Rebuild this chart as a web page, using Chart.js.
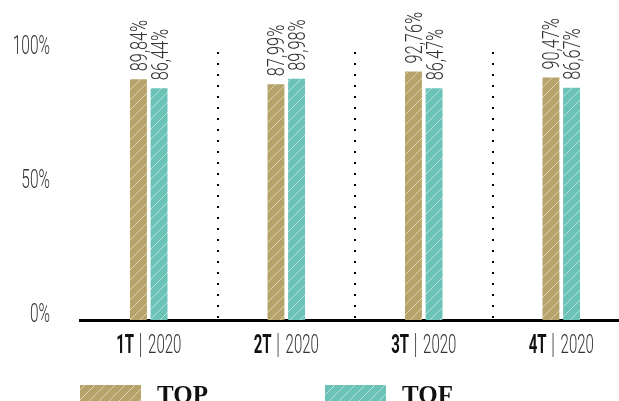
<!DOCTYPE html>
<html>
<head>
<meta charset="utf-8">
<script src="https://cdn.jsdelivr.net/npm/chart.js@4.4.1/dist/chart.umd.min.js"></script>
<style>
  html, body { margin: 0; padding: 0; background: #fff; overflow: hidden; }
  #wrap { width: 619px; height: 401px; overflow: hidden; }
</style>
</head>
<body>
<div id="wrap"><canvas id="chart" width="640" height="420"></canvas></div>
<script>
const quarters = ['1T', '2T', '3T', '4T'];
const years = ['2020', '2020', '2020', '2020'];
const topValues = [89.84, 87.99, 92.76, 90.47];
const tofValues = [86.44, 89.98, 86.47, 86.67];
const yTicks = [0, 50, 100];

const TAN = '#b6a36a';
const TEAL = '#6bc2b6';
const LIGHT = "'Roboto', 'Liberation Sans Narrow', sans-serif";

function hatch(color) {
    const s = 10;
    const c = document.createElement('canvas');
    c.width = s; c.height = s;
    const g = c.getContext('2d');
    g.fillStyle = color;
    g.fillRect(0, 0, s, s);
    g.strokeStyle = 'rgba(255,255,255,0.5)';
    g.lineWidth = 1;
    g.beginPath();
    g.moveTo(0, s); g.lineTo(s, 0);
    g.moveTo(-2, 2); g.lineTo(2, -2);
    g.moveTo(s - 2, s + 2); g.lineTo(s + 2, s - 2);
    g.stroke();
    return g.createPattern(c, 'repeat');
}

// text squeezed horizontally (condensed face)
function narrowText(ctx, text, x, y, sx, align) {
    ctx.save();
    ctx.translate(x, y);
    ctx.scale(sx, 1);
    ctx.textAlign = align;
    ctx.fillText(text, 0, 0);
    ctx.restore();
}

const fmt = v => v.toFixed(2).replace('.', ',') + '%';

const decorations = {
    id: 'decorations',
    afterDraw(chart) {
        const ctx = chart.ctx;
        const x = chart.scales.x;
        const y = chart.scales.y;
        ctx.save();
        ctx.textBaseline = 'alphabetic';

        // y labels
        ctx.fillStyle = '#333';
        ctx.font = '300 25px ' + LIGHT;
        yTicks.forEach(t => {
            narrowText(ctx, t + '%', 50, y.getPixelForValue(t) + 2, 0.62, 'right');
        });

        // x labels: bold quarter | year
        quarters.forEach((q, i) => {
            const cx = x.getPixelForValue(i);
            const sx = 0.6;
            ctx.font = 'bold 25px ' + LIGHT;
            const wq = ctx.measureText(q).width * sx;
            ctx.font = '300 25px ' + LIGHT;
            const wy = ctx.measureText(years[i]).width * sx;
            const gap = 7;
            const total = wq + gap * 2 + wy;
            const left = cx - total / 2;
            ctx.fillStyle = '#111';
            ctx.font = 'bold 25px ' + LIGHT;
            narrowText(ctx, q, left, 353, sx, 'left');
            ctx.strokeStyle = '#555';
            ctx.lineWidth = 1;
            ctx.beginPath();
            ctx.moveTo(left + wq + gap - 0.5, 333);
            ctx.lineTo(left + wq + gap - 0.5, 357);
            ctx.stroke();
            ctx.fillStyle = '#333';
            ctx.font = '300 25px ' + LIGHT;
            narrowText(ctx, years[i], left + wq + gap * 2, 353, sx, 'left');
        });

        // value labels, rotated
        ctx.fillStyle = '#333';
        ctx.font = '300 24px ' + LIGHT;
        chart.data.datasets.forEach((ds, di) => {
            chart.getDatasetMeta(di).data.forEach((bar, i) => {
                ctx.save();
                ctx.translate(bar.x + 8.5, bar.y - 8);
                ctx.rotate(-Math.PI / 2);
                ctx.scale(0.68, 1);
                ctx.textAlign = 'left';
                ctx.fillText(fmt(ds.data[i]), 0, 0);
                ctx.restore();
            });
        });

        // legend
        const items = [{ x: 80, ds: chart.data.datasets[0] }, { x: 325, ds: chart.data.datasets[1] }];
        items.forEach(it => {
            ctx.fillStyle = it.ds.backgroundColor;
            ctx.fillRect(it.x, 385, 61, 22);
            ctx.fillStyle = '#111';
            ctx.font = "bold 25px 'Liberation Serif', 'DejaVu Serif', serif";
            ctx.textAlign = 'left';
            ctx.fillText(it.ds.label, it.x + 77, 403);
        });
        ctx.restore();
    }
};

new Chart(document.getElementById('chart'), {
    type: 'bar',
    data: {
        labels: quarters,
        datasets: [
            { label: 'TOP', data: topValues, backgroundColor: hatch(TAN), borderWidth: 0 },
            { label: 'TOF', data: tofValues, backgroundColor: hatch(TEAL), borderWidth: 0 }
        ]
    },
    options: {
        responsive: false,
        animation: false,
        categoryPercentage: 0.3,
        barPercentage: 0.82,
        layout: { padding: { left: 80, right: 10, top: 52, bottom: 100 } },
        plugins: {
            legend: { display: false },
            tooltip: { enabled: false }
        },
        scales: {
            x: {
                ticks: { display: false },
                grid: {
                    offset: true,
                    drawTicks: false,
                    lineWidth: 2,
                    color: c => (c.index > 0 && c.index < quarters.length) ? '#000' : 'rgba(0,0,0,0)'
                },
                border: { display: true, color: '#000', width: 3, dash: [2, 9] }
            },
            y: {
                display: false,
                min: 0,
                max: 100
            }
        }
    },
    plugins: [decorations]
});
</script>
</body>
</html>
